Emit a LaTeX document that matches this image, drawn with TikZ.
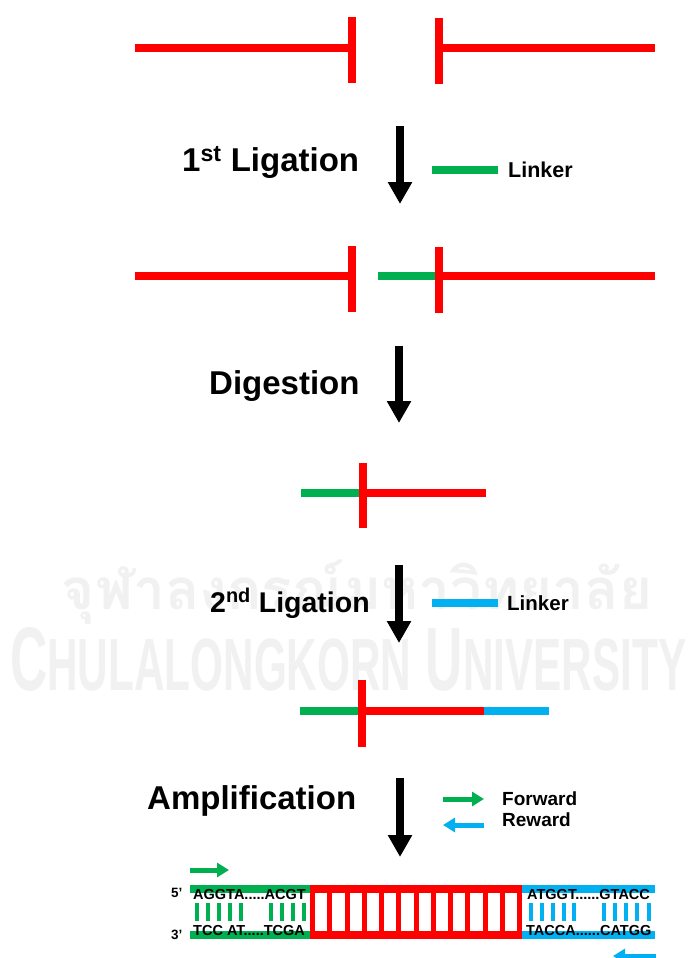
\documentclass[tikz,border=0pt]{standalone}
\usepackage{fontspec}
\setmainfont{Liberation Sans}
\newfontfamily\thaifont[Script=Thai]{Loma}
\usetikzlibrary{arrows.meta}
\definecolor{dnared}{HTML}{FF0000}
\definecolor{dnagreen}{HTML}{00B050}
\definecolor{dnablue}{HTML}{00B0F0}
\definecolor{wmgray}{HTML}{F1F1F1}
\begin{document}
\begin{tikzpicture}[x=1pt,y=-1pt,
  strand/.style={line width=8pt},
  cut/.style={line width=8pt, dnared},
  bigarrow/.style={line width=8pt, black, -{Triangle[width=23pt,length=22pt]}},
  primer/.style={line width=5pt, -{Triangle[width=14pt,length=12pt]}},
  steplabel/.style={font=\bfseries\fontsize{33}{33}\selectfont, anchor=base west, inner sep=0pt},
  linkerlabel/.style={font=\bfseries\fontsize{21.5}{21.5}\selectfont, anchor=base west, inner sep=0pt},
  primerlabel/.style={font=\bfseries\fontsize{19}{19}\selectfont, anchor=base west, inner sep=0pt},
  seq/.style={font=\bfseries\fontsize{14.5}{14.5}\selectfont, anchor=base west, inner sep=0pt},
  endlabel/.style={font=\bfseries\fontsize{13.5}{13.5}\selectfont, anchor=base west, inner sep=0pt},
  rung/.style={line width=5pt, dnared},
  pair/.style={line width=4pt}
]
\path[use as bounding box] (0,0) rectangle (688,958);
\fill[white] (0,0) rectangle (688,958);

% faint university watermark
\node[text=wmgray, inner sep=0pt, anchor=center] (wmthai) at (357,592)
  {\resizebox{590pt}{!}{\thaifont\bfseries จุฬาลงกรณ์มหาวิทยาลัย}};
\node[text=wmgray, inner sep=0pt, anchor=base west] (wmlatin) at (10,690)
  {\resizebox{676pt}{63pt}{\bfseries{\fontsize{50}{50}\selectfont C}{\fontsize{41}{41}\selectfont HULALONGKORN}\hspace{14pt}{\fontsize{50}{50}\selectfont U}{\fontsize{41}{41}\selectfont NIVERSITY}}};

% --- two restriction fragments ---
\draw[strand, dnared] (135,48) -- (352,48);
\draw[cut] (352,17) -- (352,83);
\draw[strand, dnared] (439,48) -- (655,48);
\draw[cut] (439,18) -- (439,84);

% step 1: first ligation
\coordinate (a1s) at (400,126); \coordinate (a1e) at (400,204);
\draw[bigarrow] (a1s) -- (a1e);
\node[steplabel] (lig1) at (182,171) {1\textsuperscript{st} Ligation};
\draw[strand, dnagreen] (432,170) -- (498,170);
\node[linkerlabel] (lk1) at (508,177) {Linker};

% fragments with green linker
\draw[strand, dnared] (135,276) -- (352,276);
\draw[cut] (352,246) -- (352,312);
\draw[strand, dnagreen] (378,276) -- (439,276);
\draw[strand, dnared] (439,276) -- (655,276);
\draw[cut] (439,247) -- (439,313);

% step 2: digestion
\coordinate (a2s) at (399,346); \coordinate (a2e) at (399,423);
\draw[bigarrow] (a2s) -- (a2e);
\node[steplabel] (dig) at (209,394) {Digestion};

\draw[strand, dnagreen] (301,493) -- (363,493);
\draw[strand, dnared] (363,493) -- (486,493);
\draw[cut] (363,463) -- (363,528);

% step 3: second ligation
\coordinate (a3s) at (399,565); \coordinate (a3e) at (399,643);
\draw[bigarrow] (a3s) -- (a3e);
\node[steplabel, font=\bfseries\fontsize{28.5}{28.5}\selectfont] (lig2) at (210,612) {2\textsuperscript{nd} Ligation};
\draw[strand, dnablue] (432,603) -- (498,603);
\node[linkerlabel, font=\bfseries\fontsize{20.5}{20.5}\selectfont] (lk2) at (507,610) {Linker};

\draw[strand, dnagreen] (300,711) -- (362,711);
\draw[strand, dnared] (362,711) -- (484,711);
\draw[strand, dnablue] (484,711) -- (549,711);
\draw[cut] (362,680) -- (362,747);

% step 4: amplification
\coordinate (a4s) at (400,778); \coordinate (a4e) at (400,857);
\draw[bigarrow] (a4s) -- (a4e);
\node[steplabel] (amp) at (147,809) {Amplification};
\coordinate (fws) at (443,799); \coordinate (fwe) at (484,799);
\draw[primer, dnagreen] (fws) -- (fwe);
\coordinate (rvs) at (484,825); \coordinate (rve) at (443,825);
\draw[primer, dnablue] (rvs) -- (rve);
\node[primerlabel] (fwd) at (502,805) {Forward};
\node[primerlabel] (rev) at (502,826) {Reward};

% --- amplicon ---
\coordinate (p1s) at (190,870); \coordinate (p1e) at (229,870);
\draw[primer, dnagreen] (p1s) -- (p1e);
\coordinate (p2s) at (656,956); \coordinate (p2e) at (613,956);
\draw[primer, dnablue] (p2s) -- (p2e);

% linker strands
\draw[strand, dnagreen] (190,889) -- (311,889);
\draw[strand, dnagreen] (190,935) -- (311,935);
\draw[strand, dnablue] (521,889) -- (655,889);
\draw[strand, dnablue] (521,935) -- (655,935);
\foreach \x in {197,208,219,230,241,271,282,293,304}
  \draw[pair, dnagreen] (\x,903) -- (\x,921);
\foreach \x in {531,542,553,564,574,604,615,626,637,649}
  \draw[pair, dnablue] (\x,903) -- (\x,921);

% insert as a red ladder
\draw[strand, dnared] (310,889) -- (522,889);
\draw[strand, dnared] (310,935) -- (522,935);
\foreach \i in {0,...,12}
  \draw[rung] (312.5+\i*17.25,889) -- (312.5+\i*17.25,935);

% sequences
\node[endlabel] (five) at (171,897) {5’};
\node[endlabel] (three) at (171,939) {3’};
\node[seq] (sq1) at (193,899) {AGGTA.....ACGT};
\node[seq] (sq2) at (193,935) {TCC AT.....TCGA};
\node[seq] (sq3) at (527,899) {ATGGT......GTACC};
\node[seq] (sq4) at (526,935) {TACCA......CATGG};
\end{tikzpicture}
\end{document}
